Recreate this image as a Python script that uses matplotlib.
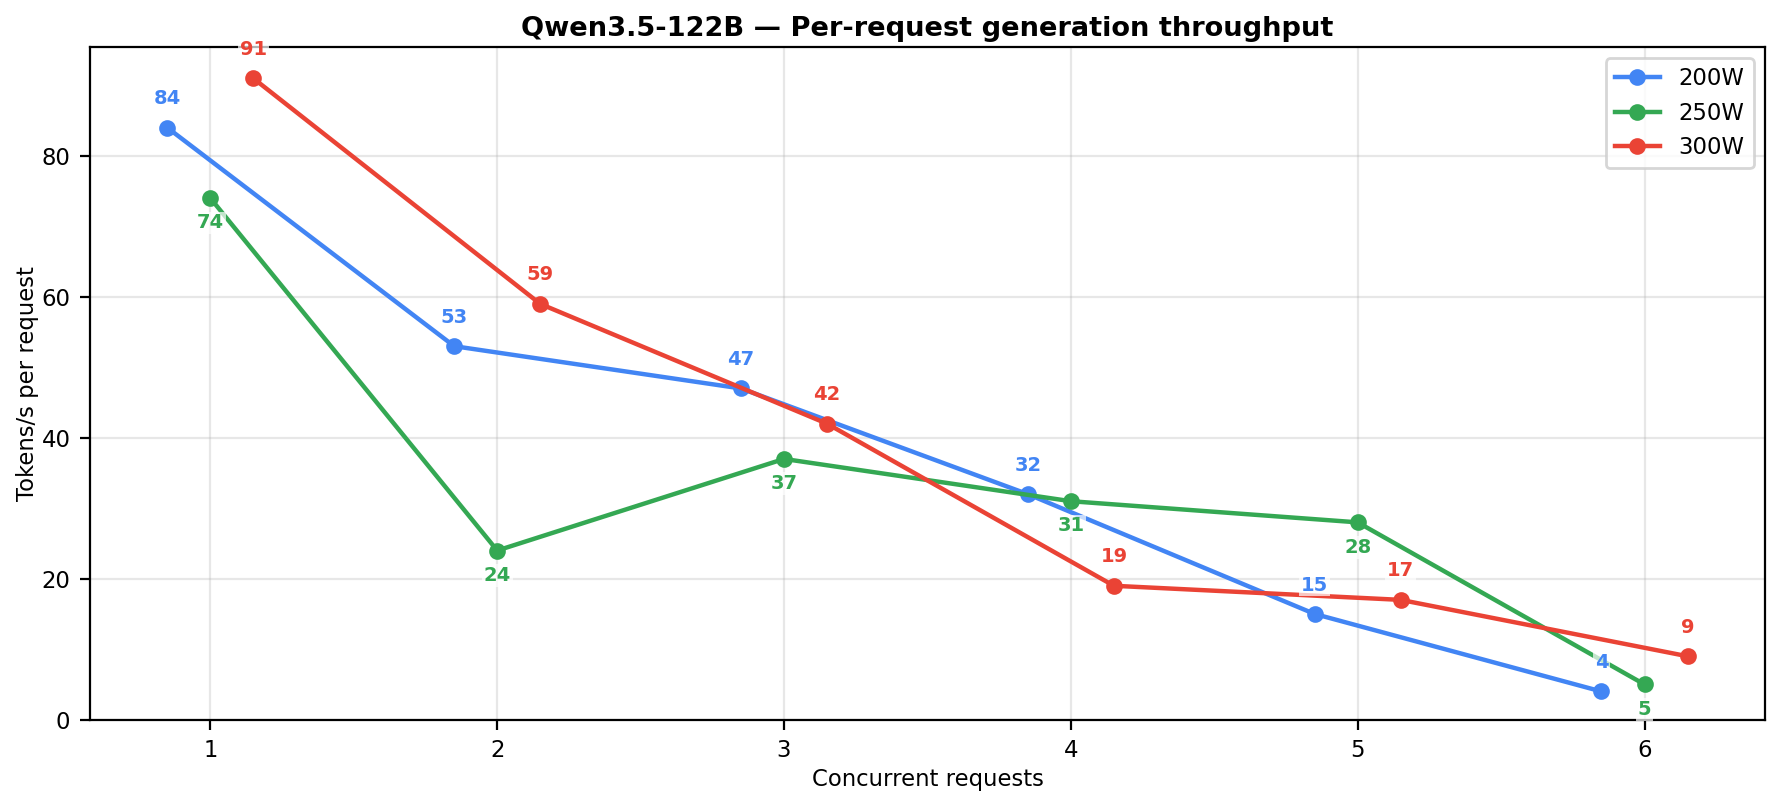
import matplotlib.pyplot as plt
import numpy as np

concurrency = [1, 2, 3, 4, 5, 6]
tps_200w = [84, 53, 47, 32, 15, 4]
tps_250w = [74, 24, 37, 31, 28, 5]
tps_300w = [91, 59, 42, 19, 17, 9]

series = [
    ("200W", tps_200w, "#4285F4", -0.15, "above"),
    ("250W", tps_250w, "#34A853", 0.0, "below"),
    ("300W", tps_300w, "#EA4335", 0.15, "above"),
]

fig, ax = plt.subplots(figsize=(8.905, 4.025), dpi=200)
fig.subplots_adjust(left=0.0505, right=0.991, top=0.942, bottom=0.106)

for name, vals, color, shift, where in series:
    xs = np.array(concurrency) + shift
    ax.plot(xs, vals, marker="o", color=color, linewidth=1.6, markersize=5, label=name)
    for x, v in zip(xs, vals):
        dy = 7 if where == "above" else -5.5
        ax.annotate(str(v), (x, v), xytext=(0, dy), textcoords="offset points",
                    ha="center", va="bottom" if where == "above" else "top",
                    fontsize=7, fontweight="bold", color=color,
                    bbox=dict(boxstyle="square,pad=0.1", fc="white", ec="none", alpha=0.7))

ax.set_title("Qwen3.5-122B — Per-request generation throughput", fontsize=9.8,
             fontweight="bold", pad=4)
ax.set_xlabel("Concurrent requests", fontsize=8.2, labelpad=2)
ax.set_ylabel("Tokens/s per request", fontsize=8.2, labelpad=1)
ax.set_xticks(concurrency)
ax.tick_params(labelsize=8.2)
ax.set_ylim(0, 95.5)
ax.set_xlim(0.58, 6.42)
ax.grid(True, alpha=0.3)
ax.legend(loc="upper right", fontsize=8.2)

plt.savefig("out.png")
